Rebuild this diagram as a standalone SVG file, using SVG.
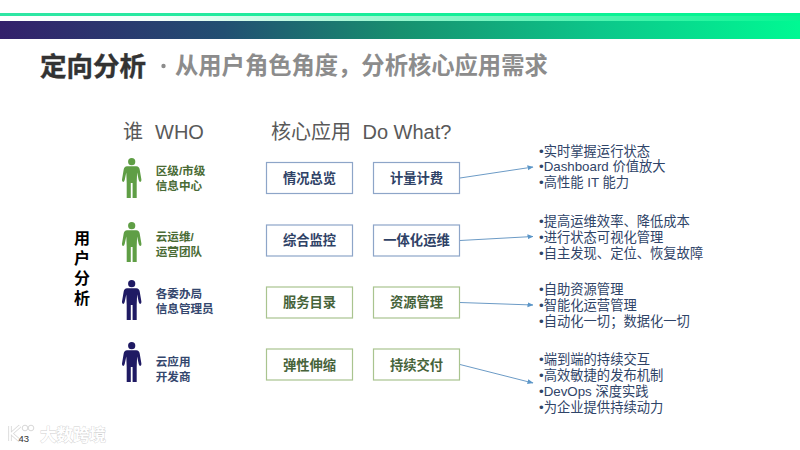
<svg xmlns="http://www.w3.org/2000/svg" width="800" height="450" viewBox="0 0 800 450">
<style>
text{font-family:"Liberation Sans","Noto Sans CJK SC",sans-serif}
.h{font-size:20px;fill:#595959}
.g{font-size:11.6px;font-weight:700;fill:#4a6b35}
.b{font-size:11.6px;font-weight:700;fill:#34476e}
.box{fill:#fff;stroke-width:1.2}
.bb{stroke:#8da5c8}
.bg{stroke:#a9c48f}
.tb{font-size:13.3px;font-weight:700;fill:#2f4266;text-anchor:middle}
.tg{font-size:13.3px;font-weight:700;fill:#46633a;text-anchor:middle}
.l{font-size:13.3px;fill:#2f4468}
.u{font-size:16px;font-weight:700;fill:#000;text-anchor:middle}
.c{fill:none;stroke:#6c9bc6;stroke-width:1;marker-end:url(#a)}
.pg{fill:#5f9e45}
.pb{fill:#1f1a63}
</style>
<defs>
<linearGradient id="bar" x1="0" x2="1" y1="0" y2="0">
<stop offset="0" stop-color="#33206b"/><stop offset=".28" stop-color="#224f72"/><stop offset=".5" stop-color="#17906f"/><stop offset=".75" stop-color="#0cc78a"/><stop offset="1" stop-color="#00f993"/>
</linearGradient>
<linearGradient id="w" x1="0" x2="1" y1="0" y2="0">
<stop offset="0" stop-color="#2fe6a4"/><stop offset="1" stop-color="#00f58f"/>
</linearGradient>
<linearGradient id="m" x1="0" x2="1" y1="0" y2="0">
<stop offset="0" stop-color="#fff"/><stop offset=".2" stop-color="#f4fffa"/><stop offset=".45" stop-color="#a5f8d5"/><stop offset=".75" stop-color="#4ff5b0"/><stop offset="1" stop-color="#05f592"/>
</linearGradient>
<marker id="a" viewBox="0 0 6 6" refX="5.5" refY="3" markerWidth="6" markerHeight="6" orient="auto" markerUnits="userSpaceOnUse"><path d="M0 0.5L6 3L0 5.5z" fill="#5b96c8"/></marker>
<symbol id="p" overflow="visible"><circle cx="0" cy="3.7" r="3.6"/><path d="M-4.6 8.2H4.6Q7.6 8.6 8 11.5L9.7 21.6Q10 23.6 8.6 24Q7.6 24 7 22L5.4 14.5L5 25V40H0.9V25H-0.9V40H-5V25L-5.4 14.5L-7 22Q-7.6 24 -8.6 24Q-10 23.6 -9.7 21.6L-8 11.5Q-7.6 8.6 -4.6 8.2Z"/></symbol>
</defs>
<rect width="800" height="450" fill="#fff"/>
<g id="header">
<rect x="0" y="13" width="800" height="3" fill="url(#w)"/>
<rect x="0" y="16" width="800" height="5" fill="url(#m)"/>
<rect x="0" y="21" width="800" height="18" fill="url(#bar)"/>
<text x="40" y="76" font-size="26.5" font-weight="700" fill="#333" stroke="#333" stroke-width=".4">定向分析</text>
<circle cx="163.500" cy="66" r="2.200" fill="#8c8c8c"/>
<text x="175" y="74" font-size="23.300" font-weight="700" fill="#8c8c8c">从用户角色角度&#xFF0C;分析核心应用需求</text>
</g>
<g id="headings">
<text class="h" x="123" y="139">谁</text>
<text class="h" x="155" y="139">WHO</text>
<text class="h" x="271" y="139">核心应用</text>
<text class="h" x="362.500" y="139">Do What?</text>
</g>
<g id="user-analysis">
<text class="u" x="82" y="244">用</text>
<text class="u" x="82" y="264">户</text>
<text class="u" x="82" y="284">分</text>
<text class="u" x="82" y="304">析</text>
</g>
<g id="connectors">
<path class="c" d="M460 178L533 167"/>
<path class="c" d="M460 240.500L533 236.500"/>
<path class="c" d="M460 302.500L533 305"/>
<path class="c" d="M460 364.500L533 383"/>
</g>
<g id="role-1"><use href="#p" class="pg" x="131.700" y="158"/><text class="g" x="155.700" y="175">区级/市级</text><text class="g" x="155.700" y="189.500">信息中心</text></g>
<g id="role-2"><use href="#p" class="pg" x="131.700" y="222"/><text class="g" x="155.700" y="241">云运维/</text><text class="g" x="155.700" y="255.500">运营团队</text></g>
<g id="role-3"><use href="#p" class="pb" x="131.700" y="280"/><text class="b" x="155.700" y="298">各委办局</text><text class="b" x="155.700" y="312.500">信息管理员</text></g>
<g id="role-4"><use href="#p" class="pb" x="131.700" y="342"/><text class="b" x="155.700" y="366">云应用</text><text class="b" x="155.700" y="380.500">开发商</text></g>
<g id="app-1"><rect class="box bb" x="266.500" y="162.500" width="86" height="31"/><text class="tb" x="309.500" y="182.700">情况总览</text></g>
<g id="do-1"><rect class="box bb" x="373.500" y="162.500" width="86" height="31"/><text class="tb" x="416.500" y="182.700">计量计费</text></g>
<g id="app-2"><rect class="box bb" x="266.500" y="225" width="86" height="31"/><text class="tb" x="309.500" y="245.200">综合监控</text></g>
<g id="do-2"><rect class="box bb" x="373.500" y="225" width="86" height="31"/><text class="tb" x="416.500" y="245.200">一体化运维</text></g>
<g id="app-3"><rect class="box bg" x="266.500" y="287" width="86" height="31"/><text class="tg" x="309.500" y="307.200">服务目录</text></g>
<g id="do-3"><rect class="box bg" x="373.500" y="287" width="86" height="31"/><text class="tg" x="416.500" y="307.200">资源管理</text></g>
<g id="app-4"><rect class="box bg" x="266.500" y="349" width="86" height="31"/><text class="tg" x="309.500" y="370.200">弹性伸缩</text></g>
<g id="do-4"><rect class="box bg" x="373.500" y="349" width="86" height="31"/><text class="tg" x="416.500" y="370.200">持续交付</text></g>
<g id="list-1">
<text class="l" x="539" y="155.500">•实时掌握运行状态</text>
<text class="l" x="539" y="171.300">•Dashboard 价值放大</text>
<text class="l" x="539" y="187.300">•高性能 IT 能力</text>
</g>
<g id="list-2">
<text class="l" x="539" y="225.500">•提高运维效率、降低成本</text>
<text class="l" x="539" y="241.500">•进行状态可视化管理</text>
<text class="l" x="539" y="257.500">•自主发现、定位、恢复故障</text>
</g>
<g id="list-3">
<text class="l" x="539" y="294">•自助资源管理</text>
<text class="l" x="539" y="310">•智能化运营管理</text>
<text class="l" x="539" y="326">•自动化一切&#xFF1B;数据化一切</text>
</g>
<g id="list-4">
<text class="l" x="539" y="364">•端到端的持续交互</text>
<text class="l" x="539" y="380">•高效敏捷的发布机制</text>
<text class="l" x="539" y="396">•DevOps 深度实践</text>
<text class="l" x="539" y="412">•为企业提供持续动力</text>
</g>
<g id="watermark">
<path d="M10 426V441M11 434L20 426M12 434L20 441" fill="none" stroke="#d8d8d8" stroke-width="3.500"/>
<path d="M10 426V441M11 434L20 426M12 434L20 441" fill="none" stroke="#fff" stroke-width="1.800"/>
<circle cx="25" cy="428" r="2.800" fill="#fff" stroke="#d8d8d8"/>
<circle cx="31" cy="428" r="2.800" fill="#fff" stroke="#d8d8d8"/>
<text x="40" y="441" font-size="16.500" font-weight="700" fill="#fff" stroke="#cfcfcf" stroke-width=".8" paint-order="stroke">大数跨境</text>
</g>
<text id="page" x="18.500" y="442" font-size="9.500" fill="#333">43</text>
</svg>
